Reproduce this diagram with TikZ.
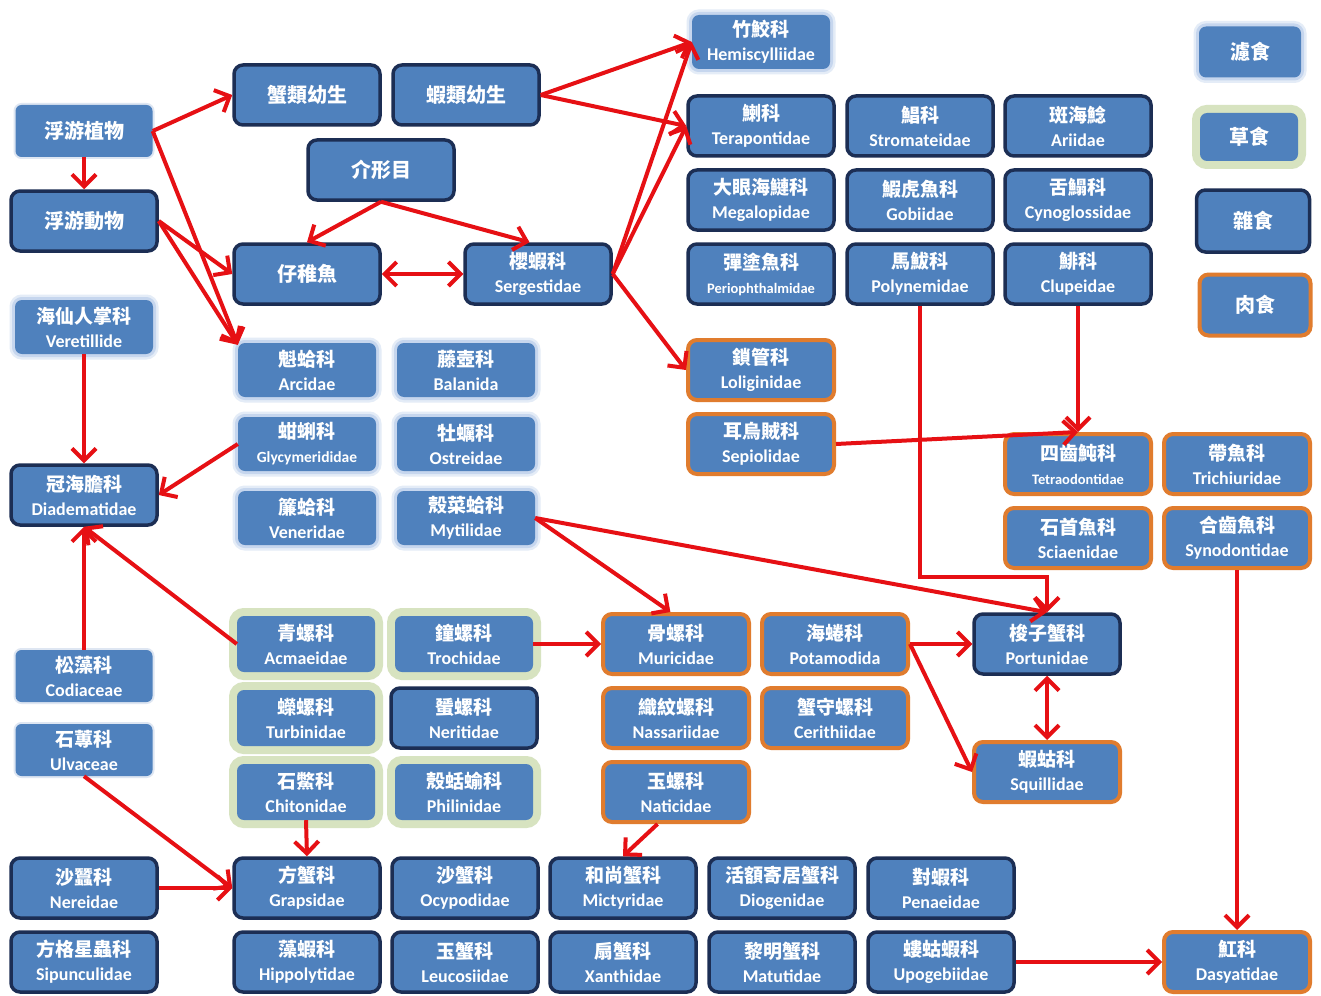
\documentclass[tikz,border=0pt]{standalone}
\usepackage{fontspec}
\setmainfont{Carlito}
\newfontfamily\cjk{Noto Sans CJK TC}
\usetikzlibrary{arrows.meta}

\definecolor{boxblue}{RGB}{79,129,189}
\definecolor{navy}{RGB}{28,46,84}
\definecolor{orangeb}{RGB}{224,124,46}
\definecolor{filtout}{RGB}{228,236,247}
\definecolor{filtin}{RGB}{198,214,238}
\definecolor{herbg}{RGB}{215,227,192}
\definecolor{prodhalo}{RGB}{222,230,242}
\definecolor{arrred}{RGB}{230,16,20}

% two-line family label: Chinese name over Latin name
\newcommand\zhtxt{\cjk\bfseries\fontsize{19}{24}\selectfont}
\newcommand\entxt{\bfseries\fontsize{18}{24}\selectfont}
\newcommand\nm[2]{{\zhtxt #1}\\{\entxt #2}}
\newcommand\soloname[1]{{\cjk\bfseries\fontsize{20}{24}\selectfont #1}}

\tikzset{
  box/.style={rectangle, rounded corners=9pt, fill=boxblue, text=white,
    align=center, inner sep=0pt, minimum width=146pt, minimum height=60pt,
    font=\fontsize{18}{24}\selectfont},
  omni/.style={box, draw=navy, line width=3.5pt},
  carn/.style={box, draw=orangeb, line width=4pt},
  filt/.style={box, minimum width=138pt, minimum height=54pt, rounded corners=7pt,
    preaction={draw=filtout, line width=11pt},
    preaction={draw=filtin, line width=6pt}},
  herb/.style={box, minimum width=138pt, minimum height=56pt, rounded corners=7pt,
    preaction={draw=herbg, line width=16pt}},
  prod/.style={box, minimum width=137pt, minimum height=52pt, rounded corners=6pt,
    preaction={draw=prodhalo, line width=4pt}},
  arr/.style={draw=arrred, line width=4pt, -{Straight Barb[length=12pt,width=24pt]}},
  darr/.style={arr, {Straight Barb[length=12pt,width=24pt]}-{Straight Barb[length=12pt,width=24pt]}},
}

\begin{document}
\begin{tikzpicture}[x=1pt,y=-1pt]
\fill[white] (0,0) rectangle (1321,995);
\useasboundingbox (0,0) rectangle (1321,995);

% ---------- plankton, larvae and fry ----------
\node[prod] (pp)    at (84,131)  {\soloname{浮游植物}};
\node[omni] (pz)    at (84,221)  {\soloname{浮游動物}};
\node[omni] (crab)  at (307,95)  {\soloname{蟹類幼生}};
\node[omni] (shr)   at (466,95)  {\soloname{蝦類幼生}};
\node[omni] (ostra) at (381,170) {\soloname{介形目}};
\node[omni] (fry)   at (307,274) {\soloname{仔稚魚}};
\node[omni] (serg)  at (538,274) {\nm{櫻蝦科}{Sergestidae}};

% ---------- fishes ----------
\node[filt] (hemi)  at (761,42)  {\nm{竹鮫科}{Hemiscylliidae}};
\node[omni] (tera)  at (761,126) {\nm{鯻科}{Terapontidae}};
\node[omni] (strom) at (920,126) {\nm{鯧科}{Stromateidae}};
\node[omni] (ari)   at (1078,126){\nm{斑海鯰}{Ariidae}};
\node[omni] (mega)  at (761,200) {\nm{大眼海鰱科}{Megalopidae}};
\node[omni] (gob)   at (920,200) {\nm{鰕虎魚科}{Gobiidae}};
\node[omni] (cyno)  at (1078,200){\nm{舌鰨科}{Cynoglossidae}};
\node[omni] (peri)  at (761,274) {{\zhtxt 彈塗魚科}\\{\bfseries\fontsize{14.5}{24}\selectfont Periophthalmidae}};
\node[omni] (poly)  at (920,274) {\nm{馬鮁科}{Polynemidae}};
\node[omni] (clup)  at (1078,274){\nm{鯡科}{Clupeidae}};

% ---------- legend ----------
\node[filt, minimum width=102pt, minimum height=51pt] (lf) at (1250,52)  {\soloname{濾食}};
\node[herb, minimum width=98pt,  minimum height=48pt] (lh) at (1249,137) {\soloname{草食}};
\node[omni, minimum width=113pt, minimum height=62pt] (lo) at (1253,221) {\soloname{雜食}};
\node[carn, minimum width=111pt, minimum height=61pt] (lc) at (1255,305) {\soloname{肉食}};

% ---------- left column ----------
\node[filt] (ver) at (84,327) {\nm{海仙人掌科}{Veretillide}};
\node[omni] (dia) at (84,495) {\nm{冠海膽科}{Diadematidae}};
\node[prod] (cod) at (84,676) {\nm{松藻科}{Codiaceae}};
\node[prod] (ulv) at (84,750) {\nm{石蓴科}{Ulvaceae}};

% ---------- bivalves and barnacles ----------
\node[filt] (arc) at (307,370) {\nm{魁蛤科}{Arcidae}};
\node[filt] (bal) at (466,370) {\nm{藤壺科}{Balanida}};
\node[filt] (gly) at (307,444) {{\zhtxt 蚶蜊科}\\{\bfseries\fontsize{15.5}{24}\selectfont Glycymerididae}};
\node[filt] (ost) at (466,444) {\nm{牡蠣科}{Ostreidae}};
\node[filt] (ven) at (307,518) {\nm{簾蛤科}{Veneridae}};
\node[filt] (myt) at (466,518) {\nm{殼菜蛤科}{Mytilidae}};

% ---------- cephalopods ----------
\node[carn] (lol) at (761,370) {\nm{鎖管科}{Loliginidae}};
\node[carn] (sep) at (761,444) {\nm{耳烏賊科}{Sepiolidae}};

% ---------- predatory fishes ----------
\node[carn] (tet) at (1078,464) {{\zhtxt 四齒魨科}\\{\bfseries\fontsize{14.5}{24}\selectfont Tetraodontidae}};
\node[carn] (tri) at (1237,464) {\nm{帶魚科}{Trichiuridae}};
\node[carn] (sci) at (1078,538) {\nm{石首魚科}{Sciaenidae}};
\node[carn] (syn) at (1237,538) {\nm{合齒魚科}{Synodontidae}};

% ---------- grazing snails and chitons ----------
\node[herb] (acm) at (306,644) {\nm{青螺科}{Acmaeidae}};
\node[herb] (tro) at (464,644) {\nm{鐘螺科}{Trochidae}};
\node[herb] (tur) at (306,718) {\nm{蠑螺科}{Turbinidae}};
\node[omni] (ner) at (464,718) {\nm{蜑螺科}{Neritidae}};
\node[herb] (chi) at (306,792) {\nm{石鱉科}{Chitonidae}};
\node[herb] (phi) at (464,792) {\nm{殼蛞蝓科}{Philinidae}};

% ---------- predatory snails ----------
\node[carn] (mur) at (676,644) {\nm{骨螺科}{Muricidae}};
\node[carn] (pot) at (835,644) {\nm{海蜷科}{Potamodida}};
\node[carn] (nas) at (676,718) {\nm{織紋螺科}{Nassariidae}};
\node[carn] (cer) at (835,718) {\nm{蟹守螺科}{Cerithiidae}};
\node[carn] (nat) at (676,792) {\nm{玉螺科}{Naticidae}};

% ---------- swimming crab and mantis shrimp ----------
\node[omni] (por) at (1047,644) {\nm{梭子蟹科}{Portunidae}};
\node[carn] (squ) at (1047,772) {\nm{蝦蛄科}{Squillidae}};

% ---------- benthic crustaceans and worms ----------
\node[omni] (nrd) at (84,888)  {\nm{沙蠶科}{Nereidae}};
\node[omni] (sip) at (84,962)  {\nm{方格星蟲科}{Sipunculidae}};
\node[omni] (gra) at (307,888) {\nm{方蟹科}{Grapsidae}};
\node[omni] (hip) at (307,962) {\nm{藻蝦科}{Hippolytidae}};
\node[omni] (ocy) at (465,888) {\nm{沙蟹科}{Ocypodidae}};
\node[omni] (leu) at (465,962) {\nm{玉蟹科}{Leucosiidae}};
\node[omni] (mic) at (623,888) {\nm{和尚蟹科}{Mictyridae}};
\node[omni] (xan) at (623,962) {\nm{扇蟹科}{Xanthidae}};
\node[omni] (dio) at (782,888) {\nm{活額寄居蟹科}{Diogenidae}};
\node[omni] (mat) at (782,962) {\nm{黎明蟹科}{Matutidae}};
\node[omni] (pen) at (941,888) {\nm{對蝦科}{Penaeidae}};
\node[omni] (upo) at (941,962) {\nm{螻蛄蝦科}{Upogebiidae}};
\node[carn] (das) at (1237,962) {\nm{魟科}{Dasyatidae}};

% ---------- feeding links ----------
\coordinate (pk) at (918,577);

\draw[arr] (pp.south) -- (pz.north);
\draw[arr] (pp.east) -- (crab.west);
\draw[arr] (pp.east) -- (arc.160);
\draw[arr] (pz.east) -- (fry.west);
\draw[arr] (pz.east) -- (arc.160);
\draw[arr] (ostra.south) -- (fry.north);
\draw[arr] (ostra.south) -- (serg.105);
\draw[darr] (fry.east) -- (serg.west);
\draw[arr] (shr.east) -- (hemi.west);
\draw[arr] (shr.east) -- (tera.west);
\draw[arr] (serg.east) -- (hemi.west);
\draw[arr] (serg.east) -- (tera.west);
\draw[arr] (serg.east) -- (lol.west);
\draw[arr] (sep.east) -- (tet.north);
\draw[arr] (clup.south) -- (tet.north);
\draw[arr] (poly.south) |- (pk) -| (por.north);
\draw[arr] (myt.east) -- (por.north);
\draw[arr] (myt.east) -- (mur.100);
\draw[arr] (syn.south) -- (das.north);
\draw[arr] (upo.east) -- (das.west);
\draw[arr] (ver.south) -- (dia.north);
\draw[arr] (gly.west) -- (dia.east);
\draw[arr] (cod.north) -- (dia.south);
\draw[arr] (acm.west) -- (dia.south);
\draw[arr] (tro.east) -- (mur.west);
\draw[arr] (chi.south) -- (gra.north);
\draw[arr] (ulv.south) -- (gra.west);
\draw[arr] (nrd.east) -- (gra.west);
\draw[arr] (nat.240) -- (mic.north);
\draw[arr] (pot.east) -- (por.west);
\draw[arr] (pot.east) -- (squ.west);
\draw[darr] (por.south) -- (squ.north);
\end{tikzpicture}
\end{document}
